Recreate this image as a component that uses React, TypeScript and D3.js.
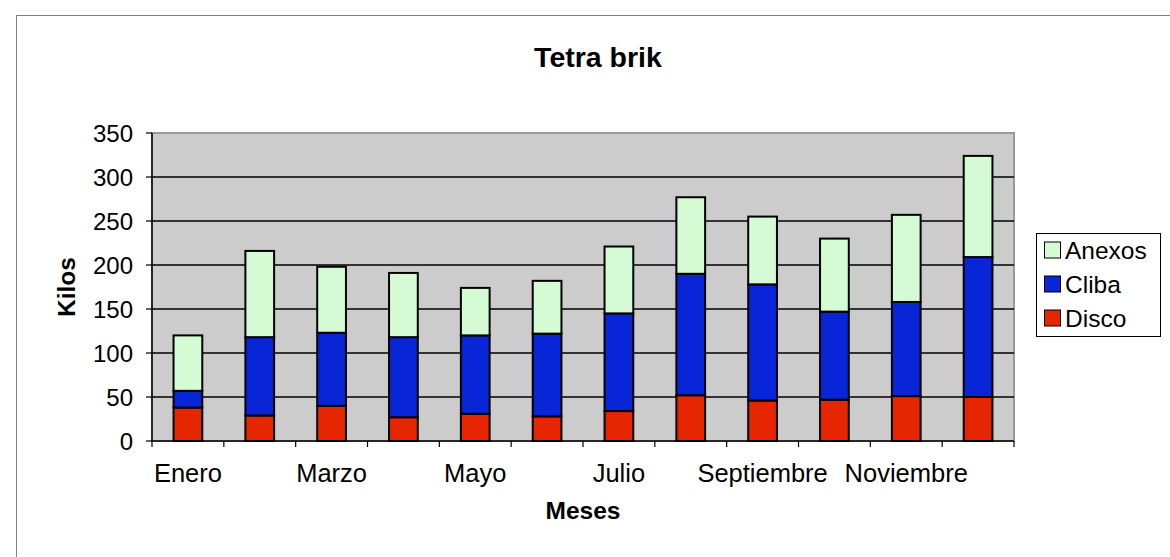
import * as d3 from "d3";

const months = [
  "Enero", "Febrero", "Marzo", "Abril", "Mayo", "Junio",
  "Julio", "Agosto", "Septiembre", "Octubre", "Noviembre", "Diciembre",
];
const disco = [38, 29, 40, 27, 31, 28, 34, 52, 46, 47, 51, 50];
const cliba = [19, 89, 83, 91, 89, 94, 111, 138, 132, 100, 107, 159];
const anexos = [63, 98, 75, 73, 54, 60, 76, 87, 77, 83, 99, 115];
const seriesKeys = ["Disco", "Cliba", "Anexos"] as const;
const legendKeys = ["Anexos", "Cliba", "Disco"] as const;
const yTicks = [0, 50, 100, 150, 200, 250, 300, 350];

const colors: Record<string, string> = {
  Anexos: "#d5fbd5",
  Cliba: "#0826d8",
  Disco: "#e52600",
};

const FONT = "'Liberation Sans', Arial, sans-serif";

export default function App() {
  const width = 1170;
  const height = 557;
  const plot = { left: 152, right: 1014, top: 133, bottom: 441 };

  const rows = months.map((m, i) => ({
    month: m,
    Disco: disco[i],
    Cliba: cliba[i],
    Anexos: anexos[i],
  }));

  const stacked = d3.stack<(typeof rows)[number]>().keys(seriesKeys as unknown as string[])(rows);

  const x = d3
    .scaleBand()
    .domain(months)
    .range([plot.left, plot.right])
    .paddingInner(0.6)
    .paddingOuter(0.3);
  const y = d3.scaleLinear().domain([0, 350]).range([plot.bottom, plot.top]);

  const step = x.step();
  const gap = (step - x.bandwidth()) / 2;
  const boundaries = months.map((m) => (x(m) ?? 0) - gap).concat([plot.right]);

  return (
    <svg
      width={width}
      height={height}
      style={{ position: "absolute", left: 0, top: 0, display: "block", background: "#fff" }}
      fontFamily={FONT}
    >
      <rect x={16.5} y={15.5} width={1170} height={560} fill="#fff" stroke="#808080" />

      <text x={598} y={67} textAnchor="middle" fontSize={28.5} fontWeight="bold">
        Tetra brik
      </text>

      {/* plot area */}
      <rect
        x={plot.left}
        y={plot.top}
        width={plot.right - plot.left}
        height={plot.bottom - plot.top}
        fill="#cccccc"
        stroke="#9a9a9a"
        strokeWidth={2}
      />
      {yTicks.slice(1, -1).map((t) => (
        <line key={t} x1={plot.left} x2={plot.right} y1={y(t)} y2={y(t)} stroke="#000" strokeWidth={1.3} />
      ))}

      {/* bars */}
      {stacked.map((layer) => (
        <g key={layer.key} fill={colors[layer.key]} stroke="#000" strokeWidth={2}>
          {layer.map((d, i) => (
            <rect
              key={i}
              x={x(d.data.month)}
              y={y(d[1])}
              width={x.bandwidth()}
              height={y(d[0]) - y(d[1])}
            />
          ))}
        </g>
      ))}

      {/* y axis */}
      <line x1={plot.left} x2={plot.left} y1={plot.top} y2={plot.bottom} stroke="#000" strokeWidth={1.5} />
      {yTicks.map((t) => (
        <g key={t}>
          <line x1={plot.left - 6} x2={plot.left} y1={y(t)} y2={y(t)} stroke="#000" strokeWidth={1.2} />
          <text x={plot.left - 19} y={y(t) + 8.5} textAnchor="end" fontSize={24}>
            {t}
          </text>
        </g>
      ))}

      {/* x axis */}
      <line x1={plot.left} x2={plot.right} y1={plot.bottom} y2={plot.bottom} stroke="#000" strokeWidth={1.5} />
      {boundaries.map((b, i) => (
        <line key={i} x1={b} x2={b} y1={plot.bottom} y2={plot.bottom + 6} stroke="#000" strokeWidth={1.2} />
      ))}
      {months.map((m, i) =>
        i % 2 === 0 ? (
          <text key={m} x={(x(m) ?? 0) + x.bandwidth() / 2} y={482} textAnchor="middle" fontSize={25.5}>
            {m}
          </text>
        ) : null
      )}

      <text x={583} y={519} textAnchor="middle" fontSize={24.5} fontWeight="bold">
        Meses
      </text>
      <text
        transform={`translate(75, ${(plot.top + plot.bottom) / 2}) rotate(-90)`}
        textAnchor="middle"
        fontSize={24.5}
        fontWeight="bold"
      >
        Kilos
      </text>

      {/* legend */}
      <rect x={1036.5} y={233.5} width={124} height={103} fill="#fff" stroke="#000" strokeWidth={1} />
      {legendKeys.map((k, i) => {
        const cy = 250 + i * 34;
        return (
          <g key={k}>
            <rect x={1044.5} y={cy - 8} width={16} height={16} fill={colors[k]} stroke="#000" strokeWidth={1} />
            <text x={1065} y={cy + 8.5} fontSize={24.5}>
              {k}
            </text>
          </g>
        );
      })}
    </svg>
  );
}
